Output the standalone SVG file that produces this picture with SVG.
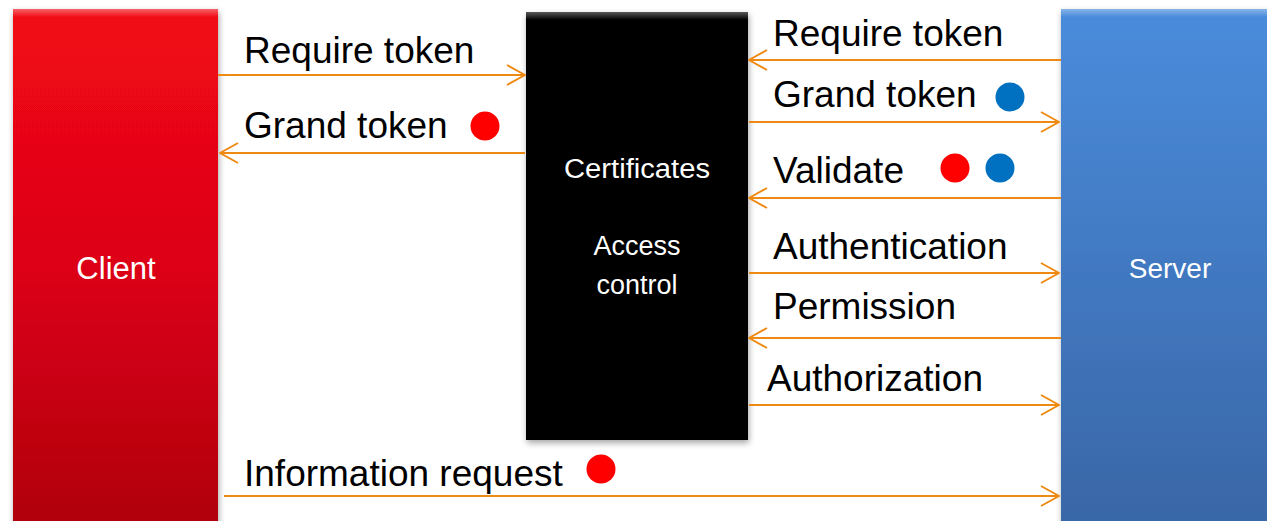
<svg xmlns="http://www.w3.org/2000/svg" width="1267" height="521" viewBox="0 0 1267 521">
<style>
.lbl{font-family:"Liberation Sans",Arial,sans-serif;font-size:37px;fill:#000}
.wt{font-family:"Liberation Sans",Arial,sans-serif;fill:#fff;text-anchor:middle}
.con{stroke:#EE8A12;stroke-width:2;fill:none}
</style>
<defs>
<linearGradient id="gRed" x1="0" y1="0" x2="0" y2="1">
<stop offset="0" stop-color="#F20818"/><stop offset="0.5" stop-color="#DC0414"/><stop offset="1" stop-color="#B0000F"/>
</linearGradient>
<linearGradient id="gBlue" x1="0" y1="0" x2="0" y2="1">
<stop offset="0" stop-color="#4A8CDC"/><stop offset="1" stop-color="#3966A6"/>
</linearGradient>
<linearGradient id="gTop" x1="0" y1="0" x2="0" y2="1">
<stop offset="0" stop-color="#fff" stop-opacity="0.35"/><stop offset="1" stop-color="#fff" stop-opacity="0"/>
</linearGradient>
<filter id="sh" x="-10%" y="-10%" width="120%" height="120%">
<feDropShadow dx="1" dy="3" stdDeviation="3" flood-color="#000" flood-opacity="0.35"/>
</filter>
<marker id="ah" viewBox="0 0 20 22" refX="19" refY="11" markerWidth="20" markerHeight="22" markerUnits="userSpaceOnUse" orient="auto">
<path d="M1,1 L19,11 L1,21" fill="none" stroke="#EE8A12" stroke-width="2"/>
</marker>
</defs>
<rect width="1267" height="521" fill="#fff"/>

<g id="client">
<rect x="13" y="9" width="205" height="520" fill="url(#gRed)" filter="url(#sh)"/>
<rect x="13" y="9" width="205" height="8" fill="url(#gTop)"/>
<text class="wt" x="116" y="279" font-size="31">Client</text>
</g>

<g id="access-control">
<rect x="526" y="12" width="222" height="428" fill="#050505" filter="url(#sh)"/>
<rect x="526" y="12" width="222" height="8" fill="url(#gTop)"/>
<text class="wt" x="637" y="178" font-size="27" textLength="146" lengthAdjust="spacingAndGlyphs">Certificates</text>
<text class="wt" x="637" y="255" font-size="27">Access</text>
<text class="wt" x="637" y="294" font-size="27">control</text>
</g>

<g id="server">
<rect x="1061" y="9" width="210" height="520" fill="url(#gBlue)" filter="url(#sh)"/>
<rect x="1061" y="9" width="210" height="8" fill="url(#gTop)"/>
<text class="wt" x="1170" y="278" font-size="28">Server</text>
</g>

<g id="connectors">
<line class="con" x1="218" y1="75" x2="525" y2="75" marker-end="url(#ah)"/>
<line class="con" x1="525" y1="153" x2="220" y2="153" marker-end="url(#ah)"/>
<line class="con" x1="1061" y1="60" x2="749" y2="60" marker-end="url(#ah)"/>
<line class="con" x1="749" y1="122" x2="1059" y2="122" marker-end="url(#ah)"/>
<line class="con" x1="1061" y1="198" x2="749" y2="198" marker-end="url(#ah)"/>
<line class="con" x1="749" y1="273" x2="1059" y2="273" marker-end="url(#ah)"/>
<line class="con" x1="1061" y1="338" x2="749" y2="338" marker-end="url(#ah)"/>
<line class="con" x1="749" y1="405" x2="1059" y2="405" marker-end="url(#ah)"/>
<line class="con" x1="224" y1="496" x2="1059" y2="496" marker-end="url(#ah)"/>
</g>

<g id="labels">
<text class="lbl" x="244" y="63">Require token</text>
<text class="lbl" x="244" y="138">Grand token</text>
<circle cx="485" cy="126" r="14.5" fill="#FF0000"/>
<text class="lbl" x="773" y="46">Require token</text>
<text class="lbl" x="773" y="107">Grand token</text>
<circle cx="1010" cy="97" r="14.5" fill="#0070C0"/>
<text class="lbl" x="773" y="183">Validate</text>
<circle cx="955" cy="168" r="14.5" fill="#FF0000"/>
<circle cx="1000" cy="168" r="14.5" fill="#0070C0"/>
<text class="lbl" x="773" y="259">Authentication</text>
<text class="lbl" x="773" y="319">Permission</text>
<text class="lbl" x="767" y="391">Authorization</text>
<text class="lbl" x="244" y="486">Information request</text>
<circle cx="601" cy="469" r="14.5" fill="#FF0000"/>
</g>
</svg>
